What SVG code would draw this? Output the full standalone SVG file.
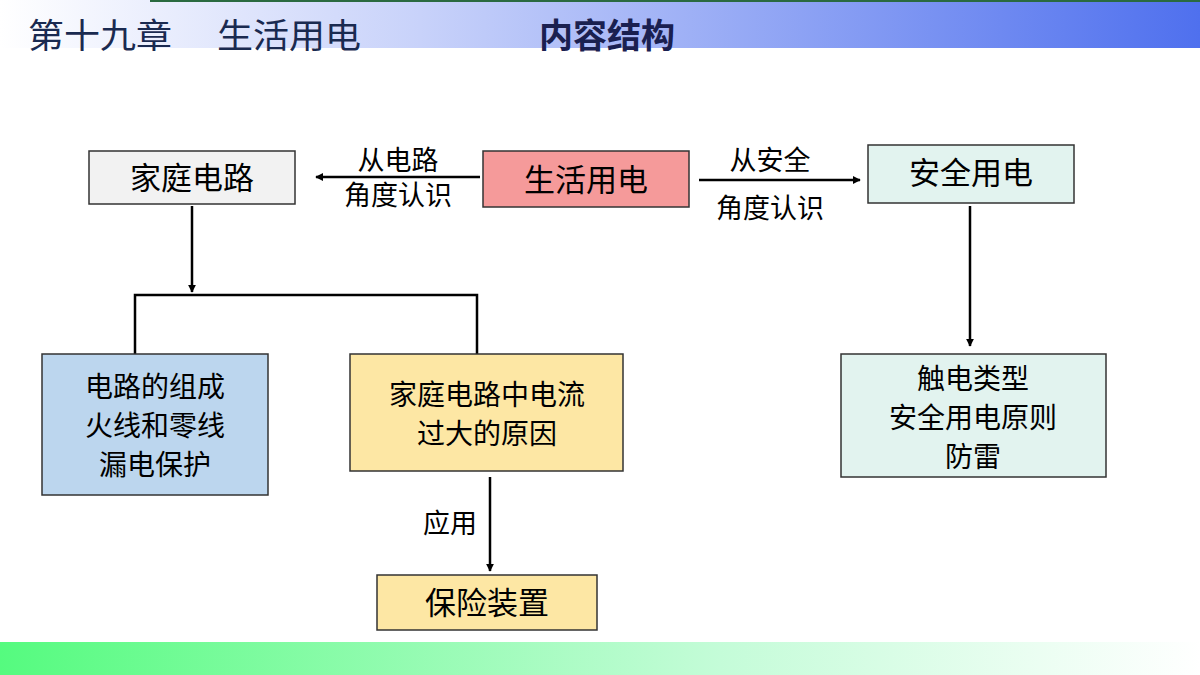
<svg xmlns="http://www.w3.org/2000/svg" width="1200" height="675" viewBox="0 0 1200 675">
<defs>
<linearGradient id="top" x1="0" x2="1" y1="0" y2="0"><stop offset="0" stop-color="#ffffff"/><stop offset="0.35" stop-color="#c8d2fa"/><stop offset="1" stop-color="#4f70ee"/></linearGradient>
<linearGradient id="bot" x1="0" x2="1" y1="0" y2="0"><stop offset="0" stop-color="#55fb7f"/><stop offset="0.6" stop-color="#c4fcd8"/><stop offset="1" stop-color="#ffffff"/></linearGradient>
<marker id="ah" viewBox="0 0 10 10" refX="9" refY="5" markerWidth="8" markerHeight="8" orient="auto" markerUnits="userSpaceOnUse"><path d="M0,0 L10,5 L0,10 Z" fill="#000"/></marker>
</defs>
<style>
.b{stroke:#333;stroke-width:1.5}
.t{font-family:"Noto Sans CJK SC",sans-serif;font-size:31px;fill:#000;text-anchor:middle}
.m{font-family:"Noto Sans CJK SC",sans-serif;font-size:28px;fill:#000;text-anchor:middle}
.s{font-family:"Noto Sans CJK SC",sans-serif;font-size:27px;fill:#000;text-anchor:middle}
.l{stroke:#000;stroke-width:2.5;fill:none}
</style>
<rect width="1200" height="675" fill="#fff"/>
<rect x="0" y="0" width="1200" height="48" fill="url(#top)"/>
<rect x="150" y="0" width="1050" height="2" fill="#2a6a40"/>
<rect x="0" y="642" width="1200" height="33" fill="url(#bot)"/>
<text x="28" y="48" font-family="Noto Sans CJK SC,sans-serif" font-size="34" fill="#1a2a50" textLength="144" lengthAdjust="spacingAndGlyphs">第十九章</text>
<text x="217" y="48" font-family="Noto Sans CJK SC,sans-serif" font-size="34" fill="#1a2a50" textLength="144" lengthAdjust="spacingAndGlyphs">生活用电</text>
<text x="607" y="48" font-family="Noto Sans CJK SC,sans-serif" font-size="34" font-weight="bold" fill="#1a2050" text-anchor="middle">内容结构</text>
<g id="connectors">
<line class="l" x1="480" y1="177" x2="316" y2="177" marker-end="url(#ah)"/>
<line class="l" x1="699" y1="180" x2="860" y2="180" marker-end="url(#ah)"/>
<line class="l" x1="192" y1="206" x2="192" y2="292" marker-end="url(#ah)"/>
<polyline class="l" points="135,354 135,295 477,295 477,354"/>
<line class="l" x1="970" y1="206" x2="970" y2="346" marker-end="url(#ah)"/>
<line class="l" x1="490" y1="477" x2="490" y2="571" marker-end="url(#ah)"/>
<text class="s" x="398" y="170">从电路</text><text class="s" x="398" y="205">角度认识</text>
<text class="s" x="770" y="170">从安全</text><text class="s" x="770" y="218">角度认识</text>
<text class="s" x="450" y="533">应用</text>
</g>
<g id="n-home"><rect class="b" x="89" y="151" width="206" height="53" fill="#f2f2f2"/><text class="t" x="192" y="189">家庭电路</text></g>
<g id="n-life"><rect class="b" x="483" y="151" width="206" height="56" fill="#f59a9a"/><text class="t" x="586" y="191">生活用电</text></g>
<g id="n-safe"><rect class="b" x="868" y="145" width="206" height="58" fill="#e2f3ef"/><text class="t" x="971" y="184">安全用电</text></g>
<g id="n-comp"><rect class="b" x="42" y="354" width="226" height="141" fill="#bcd6ee"/><text class="m" x="155" y="397">电路的组成</text><text class="m" x="155" y="436">火线和零线</text><text class="m" x="155" y="475">漏电保护</text></g>
<g id="n-over"><rect class="b" x="350" y="354" width="273" height="117" fill="#fde7a4"/><text class="m" x="487" y="405">家庭电路中电流</text><text class="m" x="487" y="444">过大的原因</text></g>
<g id="n-fuse"><rect class="b" x="377" y="575" width="220" height="55" fill="#fde7a4"/><text class="t" x="487" y="614">保险装置</text></g>
<g id="n-shock"><rect class="b" x="841" y="354" width="265" height="123" fill="#e2f3ef"/><text class="m" x="973" y="389">触电类型</text><text class="m" x="973" y="428">安全用电原则</text><text class="m" x="973" y="467">防雷</text></g>
</svg>
